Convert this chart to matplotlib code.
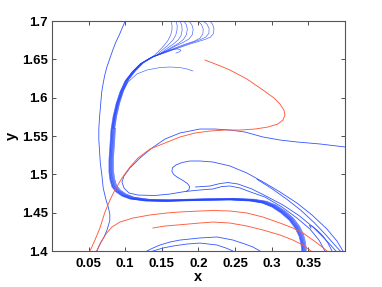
import matplotlib
matplotlib.use('Agg')
import matplotlib.pyplot as plt

plt.rcParams['font.family'] = ['Liberation Sans', 'DejaVu Sans']
plt.rcParams['font.weight'] = 'bold'

BLUE = '#3355ff'
BLUE_DARK = '#2244ff'
RED = '#ff5a3a'

# ---------------- data ----------------
x_ticks = [0.05, 0.1, 0.15, 0.2, 0.25, 0.3, 0.35]
x_tick_labels = ['0.05', '0.1', '0.15', '0.2', '0.25', '0.3', '0.35']
y_ticks = [1.4, 1.45, 1.5, 1.55, 1.6, 1.65, 1.7]
y_tick_labels = ['1.4', '1.45', '1.5', '1.55', '1.6', '1.65', '1.7']

# thin outer-left trajectory
left_x = [0.100, 0.096, 0.092, 0.087, 0.083, 0.079, 0.075, 0.072, 0.070, 0.068, 0.067,
          0.066, 0.065, 0.064, 0.064, 0.065, 0.066, 0.068, 0.070, 0.074, 0.077, 0.079,
          0.079, 0.077, 0.075, 0.071, 0.066, 0.061]
left_y = [1.700, 1.691, 1.682, 1.672, 1.662, 1.651, 1.640, 1.629, 1.619, 1.608, 1.597,
          1.586, 1.575, 1.560, 1.545, 1.530, 1.515, 1.500, 1.482, 1.466, 1.457, 1.448,
          1.440, 1.433, 1.427, 1.418, 1.410, 1.400]

# common path followed by the thick bundle
bundle_x = [0.1338, 0.1201, 0.1092, 0.0997, 0.0928, 0.0874, 0.0833, 0.0805, 0.0792,
            0.0778, 0.0778, 0.0792, 0.0819, 0.0874, 0.0956, 0.1065, 0.1270, 0.1543,
            0.2020, 0.2430, 0.2703, 0.2867, 0.3003, 0.3126, 0.3236, 0.3318, 0.3372,
            0.3399, 0.3413]
bundle_y = [1.6517, 1.6439, 1.6335, 1.6217, 1.6074, 1.5917, 1.5748, 1.5578, 1.5383,
            1.5187, 1.5030, 1.4926, 1.4835, 1.4770, 1.4717, 1.4678, 1.4652, 1.4646,
            1.4659, 1.4665, 1.4652, 1.4626, 1.4574, 1.4496, 1.4404, 1.4300, 1.4196,
            1.4091, 1.3987]

# heads of the bundle trajectories (top loops etc.)
head_t1_x = [0.1625, 0.1640, 0.1638, 0.1620, 0.1580, 0.1520, 0.1460, 0.1406]
head_t1_y = [1.700, 1.6940, 1.6883, 1.6815, 1.6740, 1.6670, 1.6610, 1.6557]
head_t2_x = [0.1693, 0.1710, 0.1707, 0.1690, 0.1650, 0.1590, 0.1510, 0.1433]
head_t2_y = [1.700, 1.6940, 1.6883, 1.6815, 1.6750, 1.6690, 1.6625, 1.6557]
head_t3_x = [0.1747, 0.1772, 0.1778, 0.1762, 0.1720, 0.1650, 0.1560, 0.1474]
head_t3_y = [1.700, 1.6945, 1.6883, 1.6810, 1.6750, 1.6695, 1.6635, 1.6570]
head_t4_x = [0.1802, 0.1835, 0.1848, 0.1835, 0.1795, 0.1730, 0.1630, 0.1529]
head_t4_y = [1.700, 1.6950, 1.6890, 1.6820, 1.6760, 1.6710, 1.6655, 1.6596]
head_t5_x = [0.1870, 0.1910, 0.1928, 0.1915, 0.1870, 0.1800, 0.1690, 0.1584]
head_t5_y = [1.700, 1.6950, 1.6890, 1.6820, 1.6765, 1.6725, 1.6675, 1.6622]
head_t6_x = [0.1993, 0.2040, 0.2065, 0.2060, 0.2020, 0.1940, 0.1810, 0.1679]
head_t6_y = [1.700, 1.6955, 1.6895, 1.6830, 1.6775, 1.6735, 1.6695, 1.6648]
head_t7_x = [0.2061, 0.2115, 0.2145, 0.2143, 0.2100, 0.2020, 0.1900, 0.1775]
head_t7_y = [1.700, 1.6960, 1.6905, 1.6840, 1.6790, 1.6755, 1.6715, 1.6674]
head_t8_x = [0.2157, 0.2195, 0.2212, 0.2205, 0.2165, 0.2090, 0.1990, 0.1884]
head_t8_y = [1.700, 1.6955, 1.6895, 1.6835, 1.6790, 1.6760, 1.6730, 1.6700]
head_h_x = [0.1693, 0.1740, 0.1761, 0.1745, 0.1700, 0.1640, 0.1584, 0.1447]
head_h_y = [1.6583, 1.6598, 1.6615, 1.6630, 1.6636, 1.6628, 1.6609, 1.6557]
head_m_x = [0.1925, 0.1843, 0.1747, 0.1611, 0.1474, 0.1297, 0.1160, 0.1038, 0.0956,
            0.0901, 0.0860, 0.0833]
head_m_y = [1.6348, 1.6374, 1.6393, 1.6400, 1.6393, 1.6361, 1.6309, 1.6204, 1.6074,
            1.5930, 1.5774, 1.5604]
bundle_heads = [(head_t1_x, head_t1_y), (head_t2_x, head_t2_y), (head_t3_x, head_t3_y),
                (head_t4_x, head_t4_y), (head_t5_x, head_t5_y), (head_t6_x, head_t6_y),
                (head_t7_x, head_t7_y), (head_t8_x, head_t8_y), (head_h_x, head_h_y),
                (head_m_x, head_m_y)]
bundle_dx = [0.0000, 0.0008, 0.0016, 0.0024, 0.0030, 0.0036, 0.0044, 0.0052, 0.0012, 0.0062]
bundle_dy = [0.0000, 0.0003, 0.0006, 0.0009, 0.0011, 0.0013, 0.0016, 0.0019, 0.0005, 0.0023]

# trajectory entering from the right edge
r1_x = [0.400, 0.3659, 0.3345, 0.3113, 0.2881, 0.2635, 0.2430, 0.2225, 0.2020, 0.1747,
        0.1543, 0.1365, 0.1201, 0.1065, 0.0983, 0.0956, 0.0983, 0.1051, 0.1174, 0.1406,
        0.1611, 0.1816, 0.2020, 0.2198, 0.2321, 0.2430, 0.2567, 0.2730, 0.2908, 0.3140,
        0.3345, 0.3522, 0.3645, 0.3727]
r1_y = [1.5357, 1.5396, 1.5422, 1.5448, 1.5487, 1.5552, 1.5578, 1.5591, 1.5591, 1.5539,
        1.5461, 1.5343, 1.5213, 1.5083, 1.4978, 1.4900, 1.4822, 1.4757, 1.4730, 1.4724,
        1.4743, 1.4776, 1.4796, 1.4809, 1.4841, 1.4848, 1.4822, 1.4763, 1.4704, 1.4574,
        1.4430, 1.4287, 1.4143, 1.400]

# S-shaped trajectory
s_x = [0.3973, 0.3891, 0.3754, 0.3550, 0.3345, 0.3113, 0.2908, 0.2662, 0.2430, 0.2198,
       0.2020, 0.1884, 0.1775, 0.1693, 0.1645, 0.1638, 0.1660, 0.1707, 0.1788, 0.1850,
       0.1880, 0.1870, 0.1830]
s_y = [1.400, 1.4130, 1.4287, 1.4470, 1.4626, 1.4770, 1.4887, 1.5017, 1.5109, 1.5161,
       1.5174, 1.5174, 1.5154, 1.5122, 1.5085, 1.5040, 1.5000, 1.4965, 1.4920, 1.4880,
       1.4840, 1.4800, 1.4775]

# short hooked trajectory near the lower-right corner
hook_x = [0.3536, 0.3515, 0.3550, 0.3618, 0.3700, 0.3768, 0.3823]
hook_y = [1.4300, 1.4333, 1.4326, 1.4274, 1.4196, 1.4104, 1.400]

# outer trajectories reaching the lower-right corner
corner1_x = [0.2800, 0.3000, 0.3200, 0.3400, 0.3580, 0.3740, 0.3860, 0.3950, 0.3995]
corner1_y = [1.4935, 1.4815, 1.4680, 1.4530, 1.4370, 1.4210, 1.4080, 1.3985, 1.3940]
corner2_x = [0.1960, 0.2157, 0.2294, 0.2403, 0.2539, 0.2730, 0.2922, 0.3154, 0.3372,
             0.3563, 0.3713, 0.3809, 0.3877]
corner2_y = [1.4835, 1.4848, 1.4880, 1.4893, 1.4874, 1.4809, 1.4717, 1.4600, 1.4463,
             1.4313, 1.4170, 1.4072, 1.400]

# lower blue arcs
arc_outer_x = [0.1297, 0.1379, 0.1474, 0.1611, 0.1747, 0.2020, 0.2253, 0.2471, 0.2635,
               0.2744, 0.2840]
arc_outer_y = [1.400, 1.4039, 1.4078, 1.4117, 1.4143, 1.4170, 1.4183, 1.4143, 1.4091,
               1.4052, 1.400]
arc_inner_x = [0.1379, 0.1515, 0.1652, 0.1843, 0.2020, 0.2253, 0.2375, 0.2471]
arc_inner_y = [1.400, 1.4039, 1.4065, 1.4091, 1.4104, 1.4078, 1.4039, 1.400]

# red trajectories
red_big_x = [0.2089, 0.2266, 0.2430, 0.2662, 0.2881, 0.3031, 0.3113, 0.3167, 0.3181,
             0.3154, 0.3085, 0.2949, 0.2771, 0.2567, 0.2362, 0.2157, 0.1952, 0.1747,
             0.1543, 0.1338, 0.1174, 0.1065, 0.0956, 0.0860, 0.0792, 0.0724, 0.0655,
             0.0587, 0.0519]
red_big_y = [1.6491, 1.6426, 1.6361, 1.6243, 1.6100, 1.5996, 1.5917, 1.5839, 1.5774,
             1.5709, 1.5657, 1.5617, 1.5591, 1.5578, 1.5578, 1.5565, 1.5539, 1.5487,
             1.5409, 1.5330, 1.5213, 1.5096, 1.4952, 1.4796, 1.4665, 1.4509, 1.4300,
             1.4143, 1.400]
red_low_x = [0.0614, 0.0669, 0.0737, 0.0819, 0.0928, 0.1106, 0.1338, 0.1570, 0.1747,
             0.2020, 0.2198, 0.2430, 0.2662, 0.2881, 0.3113, 0.3290, 0.3427, 0.3563,
             0.3672, 0.3754]
red_low_y = [1.400, 1.4117, 1.4222, 1.4313, 1.4378, 1.4430, 1.4470, 1.4496, 1.4509,
             1.4522, 1.4528, 1.4522, 1.4496, 1.4443, 1.4365, 1.4300, 1.4235, 1.4143,
             1.4065, 1.400]
red_short_x = [0.1379, 0.1543, 0.1707, 0.2020, 0.2198, 0.2430, 0.2662, 0.2881, 0.3113,
               0.3290, 0.3427, 0.3536]
red_short_y = [1.4300, 1.4326, 1.4339, 1.4365, 1.4378, 1.4365, 1.4326, 1.4274, 1.4209,
               1.4143, 1.4078, 1.400]

# ---------------- figure ----------------
fig = plt.figure(figsize=(3.82, 2.87), dpi=100)
ax = fig.add_axes([0.136, 0.1254, 0.767, 0.8014])

# bundle trajectories
for (hx, hy), dx, dy in zip(bundle_heads, bundle_dx, bundle_dy):
    start = 0
    while bundle_y[start] >= hy[-1] and start < len(bundle_y) - 1:
        start += 1
    xs = list(hx) + [bx + dx for bx in bundle_x[start:]]
    ys = list(hy) + [by + dy for by in bundle_y[start:]]
    ax.plot(xs, ys, color=BLUE_DARK, lw=0.45, alpha=0.85)

THIN = 0.6
ax.plot(left_x, left_y, color=BLUE, lw=THIN)
ax.plot(r1_x, r1_y, color=BLUE, lw=THIN)
ax.plot(s_x, s_y, color=BLUE, lw=THIN)
ax.plot(corner1_x, corner1_y, color=BLUE, lw=THIN)
ax.plot(corner2_x, corner2_y, color=BLUE, lw=THIN)
ax.plot(hook_x, hook_y, color=BLUE, lw=THIN)
ax.plot(arc_outer_x, arc_outer_y, color=BLUE, lw=THIN)
ax.plot(arc_inner_x, arc_inner_y, color=BLUE, lw=THIN)

ax.plot(red_big_x, red_big_y, color=RED, lw=0.65)
ax.plot(red_low_x, red_low_y, color=RED, lw=0.65)
ax.plot(red_short_x, red_short_y, color=RED, lw=0.65)

ax.set_xlim(0, 0.4)
ax.set_ylim(1.4, 1.7)
ax.set_xticks(x_ticks)
ax.set_xticklabels(x_tick_labels)
ax.set_yticks(y_ticks)
ax.set_yticklabels(y_tick_labels)
ax.tick_params(direction='in', length=3, width=0.6, top=True, right=True,
               labelsize=9.5, colors='#333333', labelcolor='black')
ax.tick_params(axis='x', pad=5)
ax.tick_params(axis='y', pad=3)
for sp in ax.spines.values():
    sp.set_color('#555555')
    sp.set_linewidth(0.8)

ax.set_xlabel('x', fontsize=10.5, fontweight='bold')
ax.set_ylabel('y', fontsize=10.5, fontweight='bold')
ax.xaxis.label.set_va('center')
ax.yaxis.label.set_va('center')
ax.xaxis.set_label_coords(0.5, -0.113)
ax.yaxis.set_label_coords(-0.137, 0.5)

fig.savefig('out.png', dpi=100)
